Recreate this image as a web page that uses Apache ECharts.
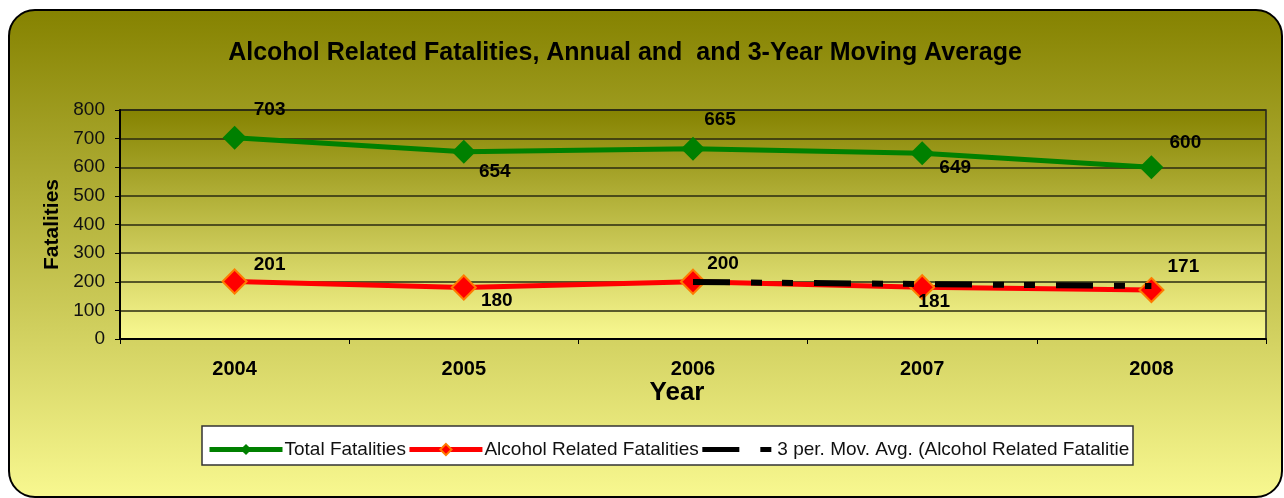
<!DOCTYPE html>
<html><head><meta charset="utf-8">
<script src="https://cdn.jsdelivr.net/npm/echarts@6/dist/echarts.min.js"></script>
<style>html,body{margin:0;padding:0;background:#fff}#c{width:1284px;height:498px}</style>
</head><body><div id="c"></div>
<script>
var years = ['2004', '2005', '2006', '2007', '2008'];
var totalFatalities = [703, 654, 665, 649, 600];
var alcoholFatalities = [201, 180, 200, 181, 171];
var movingAvg = [null, null, 199, 192, 185];
var yTicks = [0, 100, 200, 300, 400, 500, 600, 700, 800];

var totalLabelOffsets = [[35, -28], [31, 20], [27, -29], [33, 15], [34, -24]];
var alcLabelOffsets = [[35, -17], [33, 13], [30, -18], [12, 15], [32, -23]];

var F = 'Liberation Sans, Arial, sans-serif';
var chart = echarts.init(document.getElementById('c'));

function withLabels(vals, offs) {
  return vals.map(function (v, i) {
    return { value: v, label: { offset: offs[i] } };
  });
}

chart.setOption({
  animation: false,
  graphic: [
    { type: 'rect', z: -10, shape: { x: 9, y: 10, width: 1273, height: 487, r: 26 },
      style: { fill: new echarts.graphic.LinearGradient(0, 0, 0, 1, [
        { offset: 0, color: '#858200' }, { offset: 1, color: '#f8f890' }]),
        stroke: '#000', lineWidth: 2 } },
    { type: 'rect', z: 1, shape: { x: 202, y: 426, width: 931, height: 39 },
      style: { fill: '#fff', stroke: '#333', lineWidth: 1.5 } }
  ],
  title: {
    text: 'Alcohol Related Fatalities, Annual and  and 3-Year Moving Average',
    left: 620, top: 36, textAlign: 'center',
    textStyle: { fontFamily: F, fontSize: 25, fontWeight: 'bold', color: '#000' }
  },
  legend: {
    left: 202, top: 435, itemWidth: 73, itemHeight: 14, itemGap: 1, z: 5,
    lineStyle: { width: 5 },
    textStyle: { fontFamily: F, fontSize: 19, color: '#111', padding: [0, 0, 0, -3] },
    data: [
      'Total Fatalities',
      'Alcohol Related Fatalities',
      { name: '3 per. Mov. Avg. (Alcohol Related Fatalitie', itemStyle: { color: 'rgba(0,0,0,0)', borderWidth: 0 } }
    ]
  },
  grid: {
    left: 120, right: 18, top: 110, bottom: 159, show: true,
    backgroundColor: new echarts.graphic.LinearGradient(0, 0, 0, 1, [
      { offset: 0, color: '#858200' }, { offset: 1, color: '#f9f992' }]),
    borderColor: '#222', borderWidth: 1.5
  },
  xAxis: {
    type: 'category', data: years, boundaryGap: true,
    name: 'Year', nameLocation: 'middle', nameGap: 41,
    nameTextStyle: { fontFamily: F, fontSize: 26, fontWeight: 'bold', color: '#000', padding: [0, 32, 0, 0] },
    axisLine: { lineStyle: { color: '#000', width: 2 } },
    axisTick: { show: true, length: 5, lineStyle: { color: '#000' } },
    axisLabel: { margin: 20, fontFamily: F, fontSize: 20, fontWeight: 'bold', color: '#000' }
  },
  yAxis: {
    type: 'value', min: yTicks[0], max: yTicks[yTicks.length - 1], interval: 100,
    name: 'Fatalities', nameLocation: 'middle', nameGap: 52,
    nameTextStyle: { fontFamily: F, fontSize: 21, fontWeight: 'bold', color: '#000' },
    axisLine: { show: true, lineStyle: { color: '#000', width: 2 } },
    axisTick: { show: true, length: 5, lineStyle: { color: '#000' } },
    axisLabel: { margin: 15, fontFamily: F, fontSize: 19, color: '#111' },
    splitLine: { lineStyle: { color: '#2a2a10', width: 1.5 } }
  },
  series: [
    { name: 'Total Fatalities', type: 'line', data: withLabels(totalFatalities, totalLabelOffsets),
      symbol: 'diamond', symbolSize: 24,
      lineStyle: { color: '#008000', width: 5 }, itemStyle: { color: '#008000' },
      label: { show: true, position: 'inside', fontFamily: F, fontSize: 19, fontWeight: 'bold', color: '#000' },
      z: 3 },
    { name: 'Alcohol Related Fatalities', type: 'line', data: withLabels(alcoholFatalities, alcLabelOffsets),
      symbol: 'diamond', symbolSize: 24,
      lineStyle: { color: '#ff0000', width: 5 },
      itemStyle: { color: '#ff0000', borderColor: '#ff7a00', borderWidth: 2 },
      label: { show: true, position: 'inside', fontFamily: F, fontSize: 19, fontWeight: 'bold', color: '#000' },
      z: 3 },
    { name: '3 per. Mov. Avg. (Alcohol Related Fatalitie', type: 'line', data: movingAvg,
      symbol: 'none', connectNulls: false,
      lineStyle: { color: '#000', width: 6, type: [37, 21, 11, 20, 11, 21], cap: 'butt' },
      itemStyle: { color: '#000' }, z: 4 }
  ]
});
</script></body></html>
